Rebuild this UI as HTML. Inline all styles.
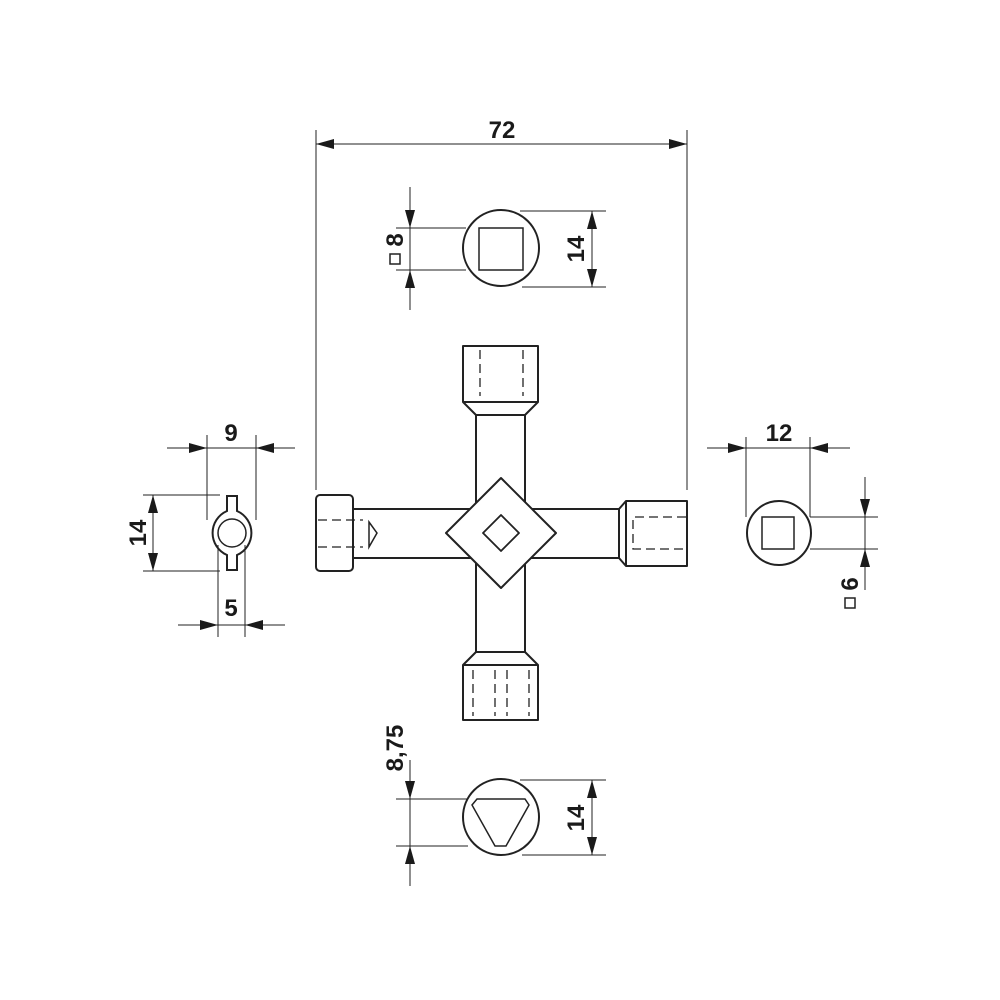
<!DOCTYPE html>
<html><head><meta charset="utf-8"><style>
html,body{margin:0;padding:0;background:#fff;width:1000px;height:1000px;overflow:hidden}
text{font-family:"Liberation Sans",Arial,sans-serif;font-weight:bold;fill:#1a1a1a}
</style></head><body>
<svg width="1000" height="1000" viewBox="0 0 1000 1000" xmlns="http://www.w3.org/2000/svg">
<g fill="none" stroke="#222" stroke-width="1">
  <line x1="316" y1="130" x2="316" y2="490"/>
  <line x1="687" y1="130" x2="687" y2="490"/>
  <line x1="316" y1="144" x2="687" y2="144"/>
  <line x1="396" y1="228" x2="466" y2="228"/>
  <line x1="396" y1="270" x2="466" y2="270"/>
  <line x1="410" y1="187" x2="410" y2="310"/>
  <line x1="520" y1="211" x2="606" y2="211"/>
  <line x1="522" y1="287" x2="606" y2="287"/>
  <line x1="592" y1="211" x2="592" y2="287"/>
  <line x1="396" y1="799" x2="468" y2="799"/>
  <line x1="396" y1="846" x2="468" y2="846"/>
  <line x1="410" y1="760" x2="410" y2="886"/>
  <line x1="520" y1="780" x2="606" y2="780"/>
  <line x1="522" y1="855" x2="606" y2="855"/>
  <line x1="592" y1="780" x2="592" y2="855"/>
  <line x1="746" y1="437" x2="746" y2="517"/>
  <line x1="810" y1="437" x2="810" y2="517"/>
  <line x1="707" y1="448" x2="850" y2="448"/>
  <line x1="810" y1="517" x2="878" y2="517"/>
  <line x1="810" y1="549" x2="878" y2="549"/>
  <line x1="865" y1="477" x2="865" y2="590"/>
  <line x1="207" y1="435" x2="207" y2="520"/>
  <line x1="256" y1="435" x2="256" y2="520"/>
  <line x1="167" y1="448" x2="295" y2="448"/>
  <line x1="143" y1="495" x2="220" y2="495"/>
  <line x1="143" y1="571" x2="220" y2="571"/>
  <line x1="153" y1="495" x2="153" y2="571"/>
  <line x1="218" y1="545" x2="218" y2="637"/>
  <line x1="245" y1="545" x2="245" y2="637"/>
  <line x1="178" y1="625" x2="285" y2="625"/>
</g>
<g fill="#1a1a1a" stroke="none">
  <polygon points="316,144 334,139 334,149"/>
  <polygon points="687,144 669,139 669,149"/>
  <polygon points="410,228 405,210 415,210"/>
  <polygon points="410,270 405,288 415,288"/>
  <polygon points="592,211 587,229 597,229"/>
  <polygon points="592,287 587,269 597,269"/>
  <polygon points="410,799 405,781 415,781"/>
  <polygon points="410,846 405,864 415,864"/>
  <polygon points="592,780 587,798 597,798"/>
  <polygon points="592,855 587,837 597,837"/>
  <polygon points="746,448 728,443 728,453"/>
  <polygon points="810,448 828,443 828,453"/>
  <polygon points="865,517 860,499 870,499"/>
  <polygon points="865,549 860,567 870,567"/>
  <polygon points="207,448 189,443 189,453"/>
  <polygon points="256,448 274,443 274,453"/>
  <polygon points="153,495 148,513 158,513"/>
  <polygon points="153,571 148,553 158,553"/>
  <polygon points="218,625 200,620 200,630"/>
  <polygon points="245,625 263,620 263,630"/>
</g>
<g fill="#fff" stroke="#222" stroke-width="2" stroke-linejoin="round">
  <rect x="476" y="410" width="49" height="247"/>
  <rect x="353" y="509" width="269" height="49"/>
  <polygon points="463,346 538,346 538,402 525,415 476,415 463,402"/>
  <line x1="463" y1="402" x2="538" y2="402"/>
  <polygon points="476,652 525,652 538,665 538,720 463,720 463,665"/>
  <line x1="463" y1="665" x2="538" y2="665"/>
  <rect x="316" y="495" width="37" height="76" rx="4"/>
  <polygon points="619,509 626,501 687,501 687,566 626,566 619,558"/>
  <line x1="626" y1="501" x2="626" y2="566"/>
  <polygon points="501,478 556,533 501,588 446,533" stroke-width="2" stroke-linejoin="round"/>
  <polygon points="501,515 519,533 501,551 483,533" stroke-width="1.8"/>
</g>
<g fill="none" stroke="#222" stroke-width="1.3" stroke-dasharray="9,5">
  <line x1="480" y1="350" x2="480" y2="396"/>
  <line x1="523" y1="350" x2="523" y2="396"/>
  <line x1="473" y1="670" x2="473" y2="716"/>
  <line x1="495" y1="670" x2="495" y2="716"/>
  <line x1="507" y1="670" x2="507" y2="716"/>
  <line x1="529" y1="670" x2="529" y2="716"/>
  <line x1="318" y1="520" x2="363" y2="520"/>
  <line x1="318" y1="547" x2="363" y2="547"/>
  <path d="M686,517 H633 V549 H686"/>
</g>
<polygon points="369,522 377,533 369,547" fill="none" stroke="#222" stroke-width="1.5"/>
<circle cx="501" cy="248" r="38" fill="none" stroke="#222" stroke-width="2"/>
<rect x="479" y="228" width="44" height="42" fill="none" stroke="#222" stroke-width="1.5"/>
<circle cx="501" cy="817" r="38" fill="none" stroke="#222" stroke-width="2"/>
<polygon points="477,799 525,799 529,805 506,846 495,846 472,805" fill="none" stroke="#222" stroke-width="1.5"/>
<circle cx="779" cy="533" r="32" fill="none" stroke="#222" stroke-width="2"/>
<rect x="762" y="517" width="32" height="32" fill="none" stroke="#222" stroke-width="1.5"/>
<path d="M227,496 H237 V511 A24,24 0 0 1 237,555 V570 H227 V555 A24,24 0 0 1 227,511 Z" fill="none" stroke="#222" stroke-width="2"/>
<circle cx="232" cy="533" r="14" fill="none" stroke="#222" stroke-width="1.5"/>
<text x="502" y="138" font-size="24" text-anchor="middle">72</text>
<text x="779" y="441" font-size="24" text-anchor="middle">12</text>
<text x="231" y="441" font-size="24" text-anchor="middle">9</text>
<text x="231" y="616" font-size="24" text-anchor="middle">5</text>
<text transform="translate(146,533) rotate(-90)" font-size="24" text-anchor="middle">14</text>
<text transform="translate(584,249) rotate(-90)" font-size="24" text-anchor="middle">14</text>
<text transform="translate(584,818) rotate(-90)" font-size="24" text-anchor="middle">14</text>
<text transform="translate(403,748) rotate(-90)" font-size="24" text-anchor="middle">8,75</text>
<text transform="translate(403,240) rotate(-90)" font-size="24" text-anchor="middle">8</text>
<rect x="390" y="254" width="10" height="10" fill="none" stroke="#222" stroke-width="1.5"/>
<text transform="translate(858,584) rotate(-90)" font-size="24" text-anchor="middle">6</text>
<rect x="845" y="598" width="10" height="10" fill="none" stroke="#222" stroke-width="1.5"/>
</svg>
</body></html>
